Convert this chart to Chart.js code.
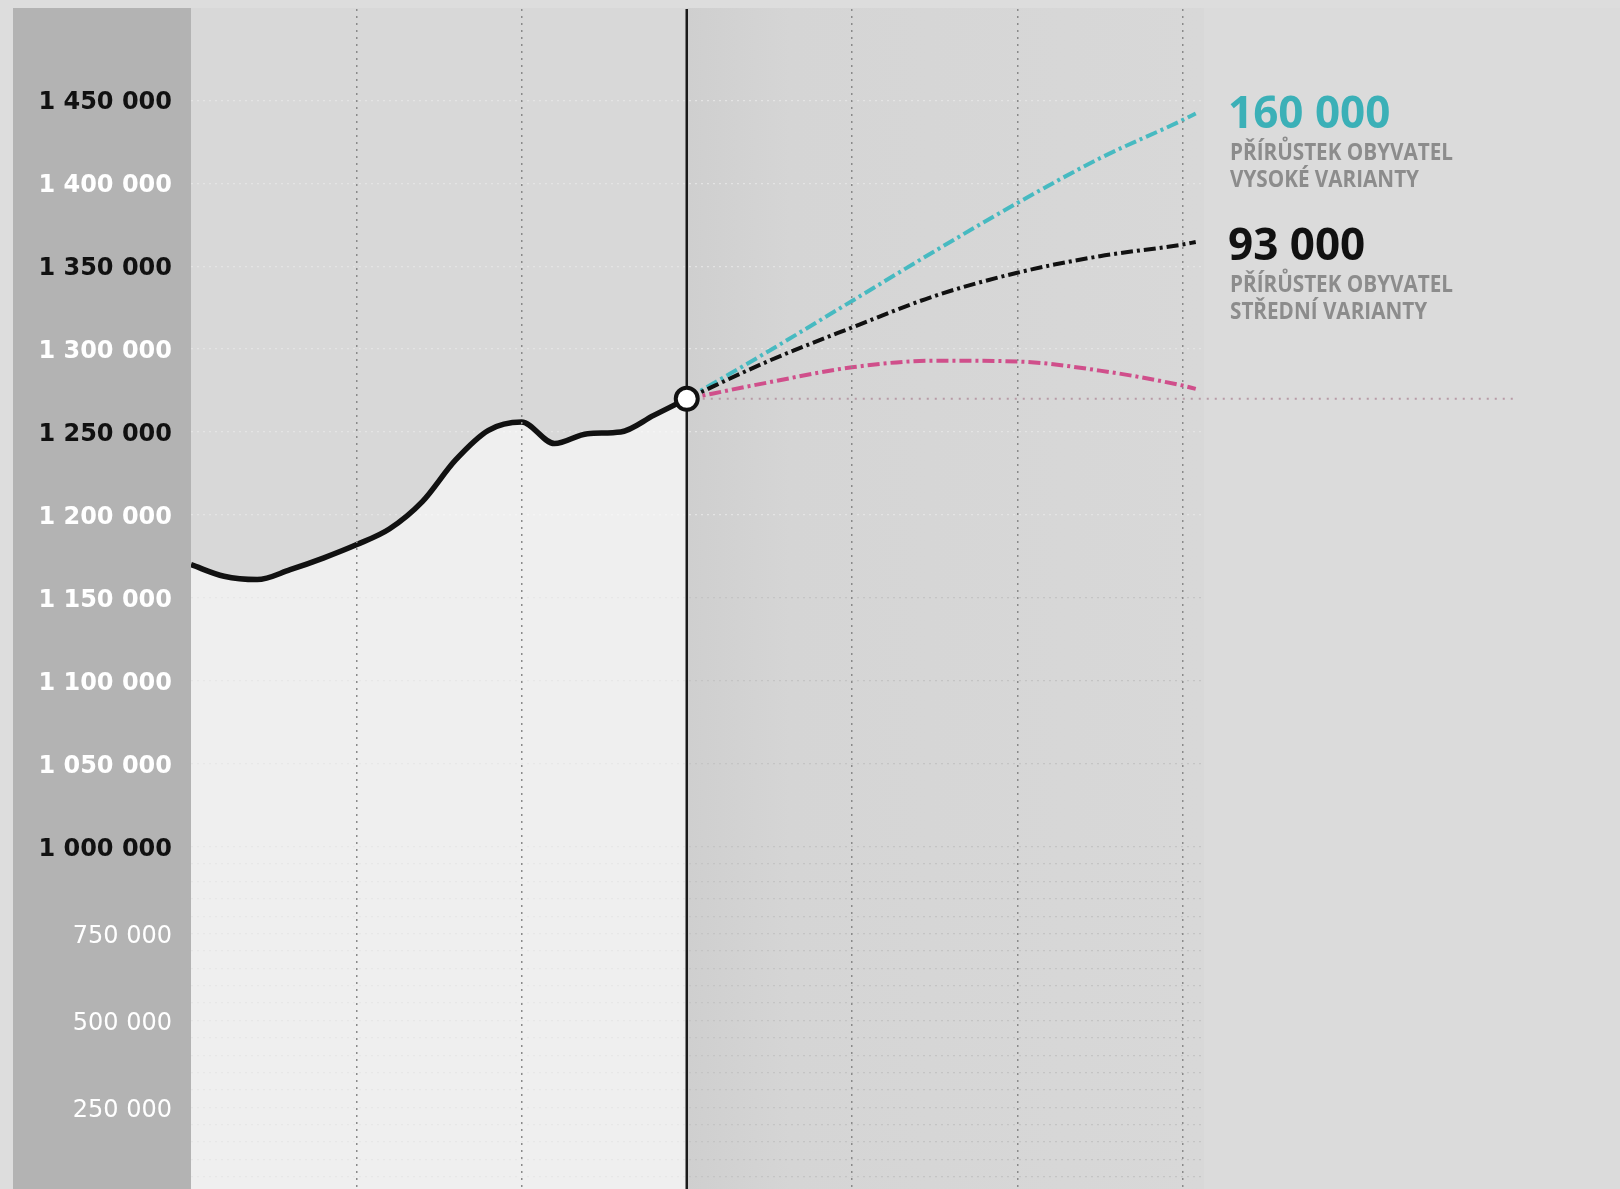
<!DOCTYPE html>
<html>
<head>
<meta charset="utf-8">
<script src="https://cdn.jsdelivr.net/npm/chart.js@4/dist/chart.umd.min.js"></script>
<style>
  html, body { margin: 0; padding: 0; background: #dddddd; }
  #wrap { width: 1620px; height: 1189px; position: relative; }
</style>
</head>
<body>
<div id="wrap"><canvas id="popChart"></canvas></div>
<script>
// population history
const histYears = [2000, 2001, 2002, 2003, 2004, 2005, 2006, 2007, 2008, 2009, 2010, 2011, 2012, 2013, 2014, 2015];
const histValues = [1170000, 1163000, 1161000, 1167000, 1174000, 1182000, 1191500, 1208000, 1233000, 1251000, 1256000, 1243000, 1249000, 1250000, 1260000, 1270000];

// projections (high / middle / low variant)
const projYears = [2015, 2017.5, 2020, 2022.5, 2025, 2027.5, 2030, 2030.4];
const highValues = [1270000, 1299000, 1329000, 1359000, 1388000, 1415000, 1438000, 1442000];
const midValues = [1270000, 1293000, 1313000, 1332000, 1346000, 1356000, 1363000, 1364500];
const lowValues = [1270000, 1280000, 1289000, 1293000, 1292500, 1287000, 1278000, 1276000];

const refLineEnd = 2040;
const dividerYear = 2015;

const xGridYears = [2005, 2010, 2020, 2025, 2030];
const yTickValues = [250000, 500000, 750000, 1000000, 1050000, 1100000, 1150000, 1200000, 1250000, 1300000, 1350000, 1400000, 1450000];
const yTickLabels = ['250 000', '500 000', '750 000', '1 000 000', '1 050 000', '1 100 000', '1 150 000', '1 200 000', '1 250 000', '1 300 000', '1 350 000', '1 400 000', '1 450 000'];
const yDarkTicks = [1000000, 1250000, 1350000, 1450000];
const yGridStep = 50000;

const notes = [
  { value: '160 000', color: '#3bb0b7', lines: ['PŘÍRŮSTEK OBYVATEL', 'VYSOKÉ VARIANTY'], y: 128 },
  { value: '93 000', color: '#111111', lines: ['PŘÍRŮSTEK OBYVATEL', 'STŘEDNÍ VARIANTY'], y: 260 }
];

// y axis with a break: 0..1M squeezed into the bottom part
class BrokenLinearScale extends Chart.LinearScale {
  getPixelForValue(value) {
    const b = this.options.breakValue, f = this.options.breakFraction;
    let t;
    if (value <= b) t = (value - this.min) / (b - this.min) * f;
    else t = f + (value - b) / (this.max - b) * (1 - f);
    return this.bottom - t * (this.bottom - this.top);
  }
  getValueForPixel(pixel) {
    const b = this.options.breakValue, f = this.options.breakFraction;
    const t = (this.bottom - pixel) / (this.bottom - this.top);
    if (t <= f) return this.min + t / f * (b - this.min);
    return b + (t - f) / (1 - f) * (this.max - b);
  }
}
BrokenLinearScale.id = 'brokenLinear';
BrokenLinearScale.defaults = Chart.LinearScale.defaults;
Chart.register(BrokenLinearScale);

const pts = (xs, ys) => xs.map((x, i) => ({ x: x, y: ys[i] }));
const lastYear = histYears[histYears.length - 1];
const lastValue = histValues[histValues.length - 1];
const dashDot = [12, 4, 3, 4];

const backdrop = {
  id: 'backdrop',
  beforeDraw(chart) {
    const { ctx, chartArea: a, width, height } = chart;
    const xd = chart.scales.x.getPixelForValue(dividerYear);
    ctx.save();
    ctx.fillStyle = '#dddddd';
    ctx.fillRect(0, 0, width, height);
    ctx.fillStyle = '#b3b3b3';
    ctx.fillRect(13, a.top - 1, a.left - 13, height - a.top + 1);
    ctx.fillStyle = '#d8d8d8';
    ctx.fillRect(a.left, a.top - 1, width - a.left, height - a.top + 1);
    const g = ctx.createLinearGradient(xd, 0, a.right, 0);
    g.addColorStop(0, '#cfcfcf');
    g.addColorStop(0.2, '#d5d5d5');
    g.addColorStop(1, '#d8d8d8');
    ctx.fillStyle = g;
    ctx.fillRect(xd, a.top - 1, a.right - xd, height - a.top + 1);
    ctx.fillStyle = '#dbdbdb';
    ctx.fillRect(a.right, a.top - 1, width - a.right, height - a.top + 1);
    ctx.restore();
  },
  beforeDatasetDraw(chart, args) {
    if (args.index !== 5) return;
    const { ctx, chartArea: a } = chart;
    const xd = chart.scales.x.getPixelForValue(dividerYear);
    ctx.save();
    ctx.strokeStyle = '#1a1a1a';
    ctx.lineWidth = 2.5;
    ctx.beginPath();
    ctx.moveTo(xd, a.top);
    ctx.lineTo(xd, chart.height);
    ctx.stroke();
    ctx.restore();
  },
  afterDraw(chart) {
    const ctx = chart.ctx;
    ctx.save();
    ctx.textBaseline = 'alphabetic';
    ctx.textAlign = 'left';
    ctx.font = 'bold 23px "Open Sans"';
    const sx = 223 / ctx.measureText('PŘÍRŮSTEK OBYVATEL').width;
    notes.forEach(n => {
      ctx.font = 'bold 44px "Open Sans"';
      ctx.fillStyle = n.color;
      ctx.fillText(n.value, 1228, n.y);
      ctx.font = 'bold 23px "Open Sans"';
      ctx.fillStyle = '#8c8c8c';
      n.lines.forEach((t, i) => {
        ctx.save();
        ctx.translate(1230, n.y + 32 + i * 27);
        ctx.scale(sx, 1);
        ctx.fillText(t, 0, 0);
        ctx.restore();
      });
    });
    ctx.restore();
  }
};

new Chart(document.getElementById('popChart'), {
  type: 'line',
  data: {
    datasets: [
      {
        data: pts(histYears, histValues),
        borderColor: '#111111',
        borderWidth: 5.5,
        backgroundColor: 'rgba(255,255,255,0.6)',
        fill: 'start',
        cubicInterpolationMode: 'monotone',
        pointRadius: 0,
        order: 5
      },
      {
        data: pts([lastYear, refLineEnd], [lastValue, lastValue]),
        borderColor: '#b89aa6',
        borderWidth: 2,
        borderDash: [2, 6],
        pointRadius: 0,
        clip: false,
        order: 4
      },
      {
        data: pts(projYears, lowValues),
        borderColor: '#d04f8b',
        borderWidth: 4,
        borderDash: dashDot,
        cubicInterpolationMode: 'monotone',
        pointRadius: 0,
        order: 3
      },
      {
        data: pts(projYears, highValues),
        borderColor: '#47bac1',
        borderWidth: 4,
        borderDash: dashDot,
        cubicInterpolationMode: 'monotone',
        pointRadius: 0,
        order: 2
      },
      {
        data: pts(projYears, midValues),
        borderColor: '#111111',
        borderWidth: 4,
        borderDash: dashDot,
        cubicInterpolationMode: 'monotone',
        pointRadius: 0,
        order: 1
      },
      {
        data: [{ x: lastYear, y: lastValue }],
        showLine: false,
        pointRadius: 11,
        pointBorderWidth: 4,
        pointBackgroundColor: '#ffffff',
        pointBorderColor: '#111111',
        order: 0
      }
    ]
  },
  options: {
    responsive: true,
    maintainAspectRatio: false,
    animation: false,
    layout: { autoPadding: false, padding: { top: 9, right: 416, bottom: 0, left: 0 } },
    plugins: { legend: { display: false }, tooltip: { enabled: false } },
    scales: {
      x: {
        type: 'linear',
        min: 2000,
        max: 2030.65,
        afterBuildTicks: s => { s.ticks = xGridYears.map(v => ({ value: v })); },
        afterFit: s => { s.height = 0; s.paddingLeft = 0; s.paddingRight = 0; s.paddingTop = 0; s.paddingBottom = 0; },
        ticks: { display: false },
        border: { display: false, dash: [2, 5] },
        grid: { color: '#8a8a8a', lineWidth: 1.5, drawTicks: false, z: 1 }
      },
      y: {
        type: 'brokenLinear',
        min: 15000,
        max: 1505000,
        breakValue: 1000000,
        breakFraction: 0.2901,
        afterBuildTicks: s => {
          const t = [];
          for (let v = yGridStep; v <= yTickValues[yTickValues.length - 1]; v += yGridStep) t.push({ value: v });
          s.ticks = t;
        },
        afterFit: s => { s.width = 191; s.paddingTop = 0; s.paddingBottom = 0; s.paddingLeft = 0; s.paddingRight = 0; },
        border: { display: false, dash: [2, 4] },
        grid: {
          drawTicks: false,
          lineWidth: 1.2,
          color: c => (c.tick && c.tick.value <= 1150000) ? '#c4c4c4' : '#e4e4e4'
        },
        ticks: {
          autoSkip: false,
          padding: 19,
          labelOffset: 3,
          callback: v => {
            const i = yTickValues.indexOf(v);
            return i >= 0 ? yTickLabels[i] : '';
          },
          color: c => yDarkTicks.includes(c.tick.value) ? '#111111' : '#ffffff',
          font: c => (c.tick && c.tick.value < 1000000)
            ? { family: 'DejaVu Sans', size: 24, weight: 'normal' }
            : { family: 'DejaVu Sans', size: 24, weight: 'bold' }
        }
      }
    }
  },
  plugins: [backdrop]
});
</script>
</body>
</html>
